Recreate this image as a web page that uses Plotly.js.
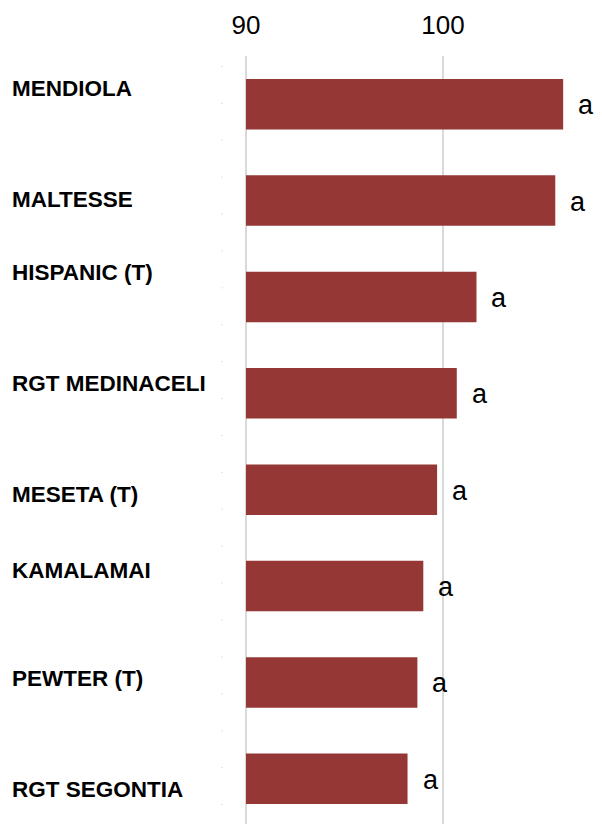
<!DOCTYPE html>
<html>
<head>
<meta charset="utf-8">
<script src="https://cdn.plot.ly/plotly-3.0.1.min.js"></script>
<style>
  html, body { margin: 0; padding: 0; overflow: hidden; background: #ffffff; }
  #chart { width: 602px; height: 827px; }
</style>
</head>
<body>
<div id="chart"></div>
<script>
// ---- data ----
const categories = ['MENDIOLA', 'MALTESSE', 'HISPANIC (T)', 'RGT MEDINACELI', 'MESETA (T)', 'KAMALAMAI', 'PEWTER (T)', 'RGT SEGONTIA'];
const values = [106.1, 105.7, 101.7, 100.7, 99.7, 99.0, 98.7, 98.2];
const letters = ['a', 'a', 'a', 'a', 'a', 'a', 'a', 'a'];
const tickValues = [90, 100];
const baseValue = 90;

// ---- style (label vertical offsets in px, positive = up) ----
const labelShift = [16, 1, 24, 10, -5, 16, 4, -11];

const barColor = '#953735';
const plotLeft = 222, plotWidth = 380;

const trace = {
  type: 'bar',
  orientation: 'h',
  y: categories,
  x: values.map(v => v - baseValue),
  base: baseValue,
  marker: { color: barColor },
  hoverinfo: 'skip'
};

const annotations = [];
categories.forEach((c, i) => {
  annotations.push({
    xref: 'paper', yref: 'y',
    x: 0, y: c,
    xanchor: 'left', yanchor: 'middle',
    xshift: 12 - plotLeft - 2,
    yshift: labelShift[i],
    text: '<b>' + c + '</b>',
    showarrow: false,
    font: { family: 'Liberation Sans, Arial, sans-serif', size: 22.5, color: '#000000' }
  });
  annotations.push({
    xref: 'x', yref: 'y',
    x: values[i], y: c,
    xanchor: 'left', yanchor: 'middle',
    xshift: 13,
    yshift: -1,
    text: letters[i],
    showarrow: false,
    font: { family: 'Liberation Sans, Arial, sans-serif', size: 27, color: '#000000' }
  });
});

const layout = {
  width: 602,
  height: 827,
  margin: { l: plotLeft, r: 0, t: 56, b: 0, pad: 0 },
  paper_bgcolor: '#ffffff',
  plot_bgcolor: '#ffffff',
  showlegend: false,
  bargap: 0.476,
  xaxis: {
    side: 'top',
    range: [90 - 24 / 19.7, 90 + 380 / 19.7 - 24 / 19.7],
    tickvals: tickValues,
    ticktext: tickValues.map(String),
    ticks: '',
    ticklabelstandoff: 16,
    showgrid: true,
    gridcolor: '#d9d9d9',
    gridwidth: 2,
    zeroline: false,
    showline: false,
    tickfont: { family: 'Liberation Sans, Arial, sans-serif', size: 26, color: '#000000' },
    fixedrange: true
  },
  yaxis: {
    type: 'category',
    categoryorder: 'array',
    categoryarray: categories,
    autorange: 'reversed',
    showticklabels: false,
    showgrid: false,
    zeroline: false,
    showline: false,
    ticks: '',
    fixedrange: true
  },
  shapes: [{
    type: 'line', xref: 'paper', yref: 'paper',
    x0: 0, x1: 0, y0: 1 - 10 / 771, y1: 0,
    line: { color: '#c8c8c8', width: 1, dash: '1px,35.9px' }
  }],
  annotations: annotations
};

Plotly.newPlot('chart', [trace], layout, { staticPlot: true, displayModeBar: false });
</script>
</body>
</html>
